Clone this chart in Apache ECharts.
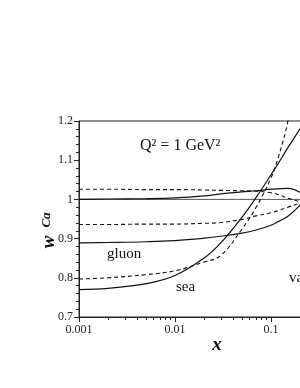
<!DOCTYPE html>
<html>
<head>
<meta charset="utf-8">
<script src="https://cdn.jsdelivr.net/npm/echarts@6/dist/echarts.min.js"></script>
<style>
html,body{margin:0;padding:0;background:#fff;}
#c{width:300px;height:388px;}
</style>
</head>
<body>
<div id="c"></div>
<script>
// shared x grid (Bjorken x)
const xVals = [0.001, 0.002, 0.005, 0.01, 0.02, 0.03, 0.05, 0.07, 0.1, 0.12, 0.15, 0.2, 0.25];
// ratios w^Ca
const valenceSolid = [1.000, 1.001, 1.002, 1.004, 1.009, 1.014, 1.019, 1.022, 1.026, 1.027, 1.028, 1.018, 0.995];
const valenceDashed = [1.026, 1.026, 1.025, 1.025, 1.024, 1.023, 1.022, 1.021, 1.017, 1.012, 1.003, 0.994, 0.985];
const gluonSolid = [0.889, 0.890, 0.892, 0.895, 0.901, 0.906, 0.914, 0.922, 0.934, 0.944, 0.957, 0.985, 1.010];
const gluonDashed = [0.936, 0.936, 0.937, 0.937, 0.939, 0.941, 0.949, 0.958, 0.966, 0.972, 0.980, 0.990, 0.995];
const seaSolid = [0.770, 0.773, 0.785, 0.806, 0.850, 0.889, 0.955, 1.005, 1.063, 1.093, 1.132, 1.180, 1.220];
const seaDashed = [0.797, 0.800, 0.808, 0.818, 0.840, 0.857, 0.925, 0.980, 1.055, 1.110, 1.200, 1.380, 1.500];
const unityX = [0.001, 1];
const unityY = [1, 1];
// axis ticks
const xMajorTicks = [0.001, 0.01, 0.1, 1];
const xMinorTicks = [0.002,0.003,0.004,0.005,0.006,0.007,0.008,0.009,
                     0.02,0.03,0.04,0.05,0.06,0.07,0.08,0.09,
                     0.2,0.3,0.4,0.5,0.6,0.7,0.8,0.9];
const yMin = 0.7, yMax = 1.2, yStep = 0.1;

const pairs = (xs, ys) => xs.map((x, i) => [x, ys[i]]);
const serif = 'Liberation Serif';
const solid = { color: '#111', width: 1.2, type: 'solid' };
const dashed = { color: '#111', width: 1.1, type: [4, 3] };

function line(data, style) {
  return { type: 'line', data: data, showSymbol: false, symbol: 'none',
    smooth: 0.4, lineStyle: style, silent: true,
    xAxisIndex: 0, yAxisIndex: 0, animation: false, clip: true };
}

const chart = echarts.init(document.getElementById('c'), null, { renderer: 'canvas' });
chart.setOption({
  animation: false,
  backgroundColor: '#fff',
  grid: { left: 79, top: 121, width: 288, height: 196, show: true,
          containLabel: false, outerBoundsMode: 'none',
          borderColor: '#222', borderWidth: 1, backgroundColor: 'transparent' },
  xAxis: [{
    type: 'log', logBase: 10, min: 0.001, max: 1,
    axisLine: { show: true, onZero: false, lineStyle: { color: '#222', width: 1 } },
    axisTick: { show: true, inside: false, length: 5, customValues: xMajorTicks, lineStyle: { color: '#222' } },
    axisLabel: { show: true, margin: 7, fontFamily: serif, fontSize: 12, color: '#222',
                 customValues: xMajorTicks, formatter: v => String(v) },
    splitLine: { show: false }, minorTick: { show: false }
  }, {
    type: 'log', logBase: 10, min: 0.001, max: 1, position: 'bottom', gridIndex: 0,
    axisLine: { show: false, onZero: false },
    axisTick: { show: true, inside: false, length: 3, customValues: xMinorTicks, lineStyle: { color: '#222' } },
    axisLabel: { show: false }, splitLine: { show: false }
  }],
  yAxis: [{
    type: 'value', min: yMin, max: yMax, interval: yStep,
    axisLine: { show: true, onZero: false, lineStyle: { color: '#222', width: 1 } },
    axisTick: { show: true, inside: false, length: 5, lineStyle: { color: '#222' } },
    minorTick: { show: true, splitNumber: 5, length: 3, lineStyle: { color: '#222' } },
    axisLabel: { margin: 6, fontFamily: serif, fontSize: 12, color: '#222' },
    splitLine: { show: false }
  }],
  series: [
    line(pairs(unityX, unityY), { color: '#555', width: 1, type: 'solid' }),
    line(pairs(xVals, valenceSolid), solid),
    line(pairs(xVals, valenceDashed), dashed),
    line(pairs(xVals, gluonSolid), solid),
    line(pairs(xVals, gluonDashed), dashed),
    line(pairs(xVals, seaSolid), solid),
    line(pairs(xVals, seaDashed), dashed)
  ],
  graphic: [
    { type: 'text', left: 140, top: 138, silent: true,
      style: { text: 'Q² = 1 GeV²', fontFamily: serif, fontSize: 16, fill: '#111' } },
    { type: 'text', x: 107, y: 254, silent: true,
      style: { text: 'gluon', fontFamily: serif, fontSize: 15, fill: '#111', textAlign: 'left', textVerticalAlign: 'middle' } },
    { type: 'text', x: 176, y: 287, silent: true,
      style: { text: 'sea', fontFamily: serif, fontSize: 15, fill: '#111', textAlign: 'left', textVerticalAlign: 'middle' } },
    { type: 'text', x: 289, y: 278, silent: true,
      style: { text: 'valence', fontFamily: serif, fontSize: 15, fill: '#111', textAlign: 'left', textVerticalAlign: 'middle' } },
    { type: 'text', x: 217, y: 345, silent: true,
      style: { text: 'x', fontFamily: serif, fontSize: 19, fontWeight: 'bold', fontStyle: 'italic', fill: '#111', textAlign: 'center', textVerticalAlign: 'middle' } },
    { type: 'text', x: 49, y: 242, rotation: Math.PI / 2, silent: true,
      style: { text: 'w', fontFamily: serif, fontSize: 19, fontWeight: 'bold', fontStyle: 'italic', fill: '#111', textAlign: 'center', textVerticalAlign: 'middle' } },
    { type: 'text', x: 47, y: 220, rotation: Math.PI / 2, silent: true,
      style: { text: 'Ca', fontFamily: serif, fontSize: 13, fontWeight: 'bold', fontStyle: 'italic', fill: '#111', textAlign: 'center', textVerticalAlign: 'middle' } }
  ]
});
</script>
</body>
</html>
